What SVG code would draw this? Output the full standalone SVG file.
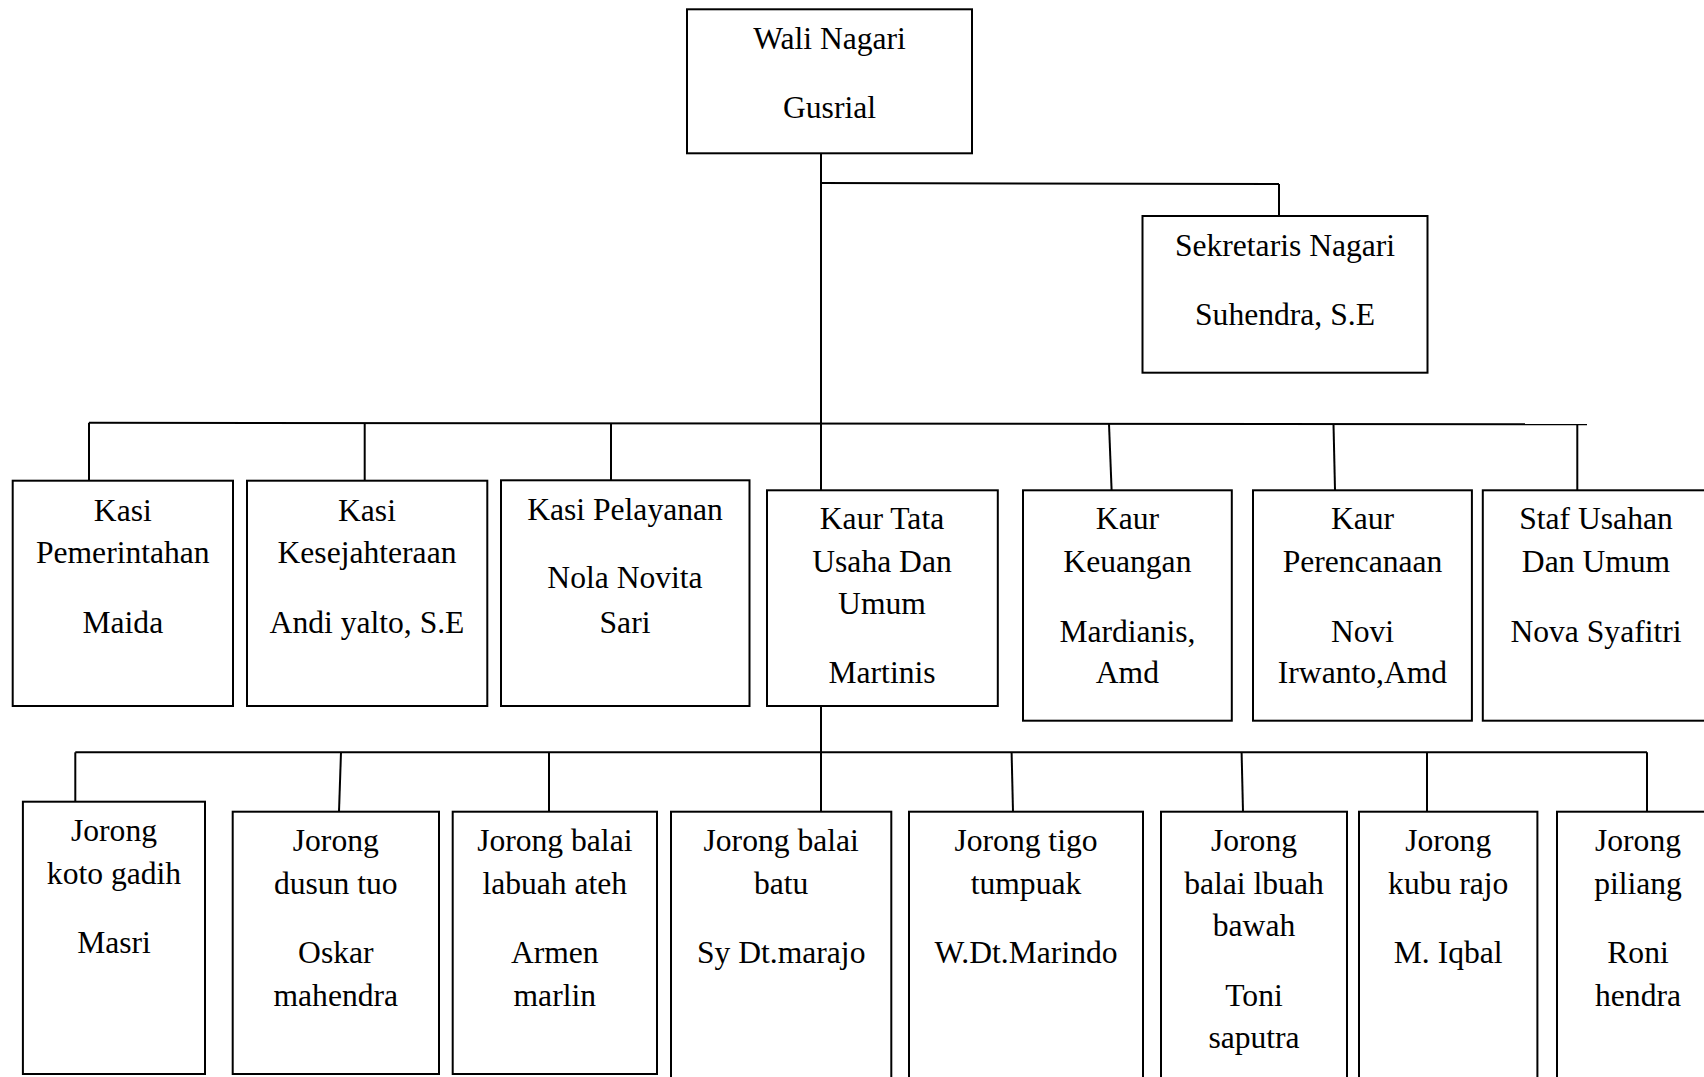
<svg xmlns="http://www.w3.org/2000/svg" width="1704" height="1077" viewBox="0 0 1704 1077">
<style>
rect{fill:#fff;stroke:#000;stroke-width:2}
text{font-family:"Liberation Serif","Times New Roman",serif;font-size:31.6px;fill:#000;text-anchor:middle}
#connectors line{stroke:#000;stroke-width:2;fill:none}
</style>
<rect x="0" y="0" width="1704" height="1077" style="stroke:none"/>
<g id="connectors">
<line x1="821" y1="153" x2="821" y2="490"/>
<line x1="821" y1="183" x2="1279" y2="184"/>
<line x1="1279" y1="184" x2="1279" y2="216"/>
<line x1="89" y1="422.7" x2="1587" y2="424.3"/>
<line x1="89" y1="422.7" x2="89" y2="480.7"/>
<line x1="364.7" y1="423" x2="364.7" y2="480.7"/>
<line x1="611" y1="423.2" x2="611" y2="480.3"/>
<line x1="1109" y1="424" x2="1111.6" y2="490"/>
<line x1="1333.5" y1="424" x2="1335" y2="490"/>
<line x1="1577.3" y1="424.2" x2="1577.3" y2="490"/>
<line x1="821" y1="706" x2="821" y2="811.7"/>
<line x1="75.3" y1="752.3" x2="1647" y2="752.3"/>
<line x1="75.3" y1="752.3" x2="75.3" y2="801.7"/>
<line x1="341" y1="752.3" x2="339" y2="811.7"/>
<line x1="549" y1="752.3" x2="549" y2="811.7"/>
<line x1="1011.6" y1="752.3" x2="1013" y2="811.7"/>
<line x1="1241.6" y1="752.3" x2="1243" y2="811.7"/>
<line x1="1427" y1="752.3" x2="1427" y2="811.7"/>
<line x1="1647" y1="752.3" x2="1647" y2="811.7"/>
</g>
<g id="wali"><rect x="687" y="9.3" width="285" height="144"/><text x="829.5" y="49.3">Wali Nagari</text><text x="829.5" y="118.3">Gusrial</text></g>
<g id="sekretaris"><rect x="1142.5" y="216" width="285" height="156.7"/><text x="1285" y="256">Sekretaris Nagari</text><text x="1285" y="325">Suhendra, S.E</text></g>
<g id="kasi-pemerintahan"><rect x="12.7" y="480.7" width="220.3" height="225.3"/><text x="122.8" y="521">Kasi</text><text x="122.8" y="563">Pemerintahan</text><text x="122.8" y="633">Maida</text></g>
<g id="kasi-kesejahteraan"><rect x="247" y="480.7" width="240.3" height="225.3"/><text x="367" y="521">Kasi</text><text x="367" y="563">Kesejahteraan</text><text x="367" y="633">Andi yalto, S.E</text></g>
<g id="kasi-pelayanan"><rect x="501" y="480.3" width="248.5" height="225.7"/><text x="625" y="520">Kasi Pelayanan</text><text x="625" y="588.3">Nola Novita</text><text x="625" y="632.7">Sari</text></g>
<g id="kaur-tata"><rect x="767" y="490.3" width="230.8" height="215.7"/><text x="882" y="529.3">Kaur Tata</text><text x="882" y="571.7">Usaha Dan</text><text x="882" y="614">Umum</text><text x="882" y="683.3">Martinis</text></g>
<g id="kaur-keuangan"><rect x="1023" y="490.3" width="208.8" height="230.4"/><text x="1127.4" y="529.3">Kaur</text><text x="1127.4" y="571.7">Keuangan</text><text x="1127.4" y="641.7">Mardianis,</text><text x="1127.4" y="683.3">Amd</text></g>
<g id="kaur-perencanaan"><rect x="1253" y="490.3" width="218.9" height="230.4"/><text x="1362.5" y="529.3">Kaur</text><text x="1362.5" y="571.7">Perencanaan</text><text x="1362.5" y="641.7">Novi</text><text x="1362.5" y="683.3">Irwanto,Amd</text></g>
<g id="staf"><rect x="1482.8" y="490.3" width="226" height="230.4"/><text x="1596" y="529.3">Staf Usahan</text><text x="1596" y="571.7">Dan Umum</text><text x="1596" y="641.7">Nova Syafitri</text></g>
<g id="jorong-koto-gadih"><rect x="22.9" y="801.7" width="182.1" height="272.3"/><text x="114" y="841">Jorong</text><text x="114" y="884">koto gadih</text><text x="114" y="952.7">Masri</text></g>
<g id="jorong-dusun-tuo"><rect x="232.7" y="811.7" width="206.3" height="262.3"/><text x="335.8" y="850.7">Jorong</text><text x="335.8" y="894">dusun tuo</text><text x="335.8" y="963.3">Oskar</text><text x="335.8" y="1006">mahendra</text></g>
<g id="jorong-labuah-ateh"><rect x="452.7" y="811.7" width="204.3" height="262.3"/><text x="554.8" y="850.7">Jorong balai</text><text x="554.8" y="894">labuah ateh</text><text x="554.8" y="963.3">Armen</text><text x="554.8" y="1006">marlin</text></g>
<g id="jorong-balai-batu"><rect x="671" y="811.7" width="220.3" height="280"/><text x="781.2" y="850.7">Jorong balai</text><text x="781.2" y="894">batu</text><text x="781.2" y="963.3">Sy Dt.marajo</text></g>
<g id="jorong-tigo-tumpuak"><rect x="909" y="811.7" width="234" height="280"/><text x="1026" y="850.7">Jorong tigo</text><text x="1026" y="894">tumpuak</text><text x="1026" y="963.3">W.Dt.Marindo</text></g>
<g id="jorong-balai-lbuah-bawah"><rect x="1161" y="811.7" width="186" height="280"/><text x="1254" y="850.7">Jorong</text><text x="1254" y="894">balai lbuah</text><text x="1254" y="935.7">bawah</text><text x="1254" y="1006">Toni</text><text x="1254" y="1048.3">saputra</text></g>
<g id="jorong-kubu-rajo"><rect x="1359" y="811.7" width="178.4" height="280"/><text x="1448.2" y="850.7">Jorong</text><text x="1448.2" y="894">kubu rajo</text><text x="1448.2" y="963.3">M. Iqbal</text></g>
<g id="jorong-piliang"><rect x="1557" y="811.7" width="162" height="280"/><text x="1638" y="850.7">Jorong</text><text x="1638" y="894">piliang</text><text x="1638" y="963.3">Roni</text><text x="1638" y="1006">hendra</text></g>
</svg>
